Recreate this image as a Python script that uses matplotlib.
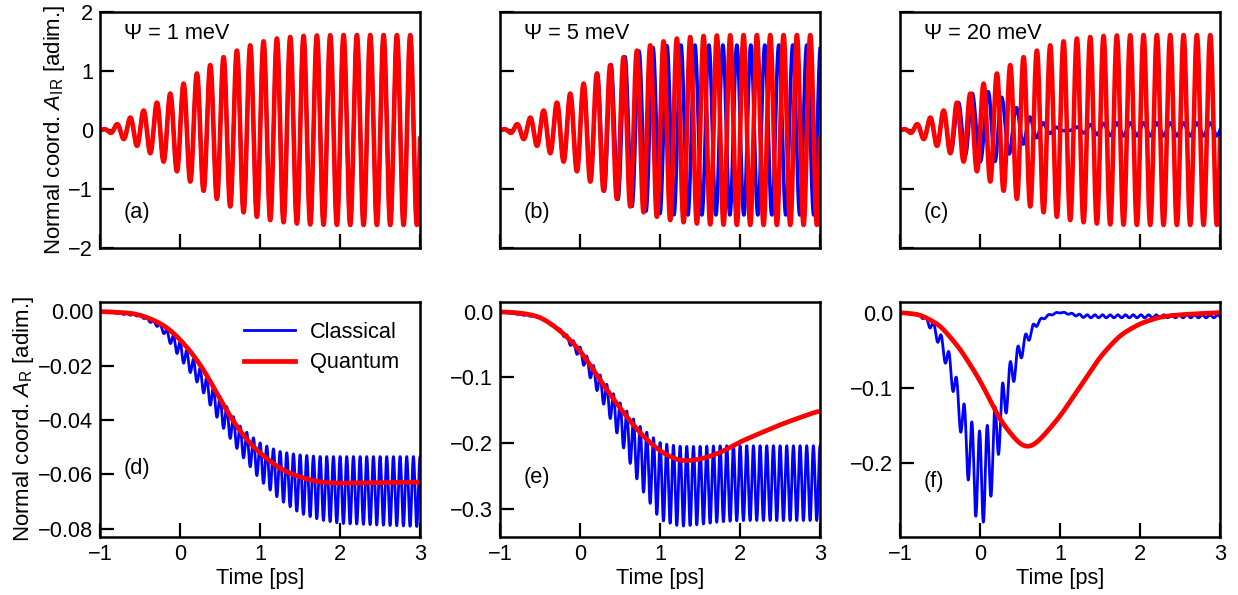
import numpy as np
import matplotlib.pyplot as plt
from matplotlib.ticker import FuncFormatter

plt.rcParams['font.family'] = ['Liberation Sans', 'DejaVu Sans']
plt.rcParams['mathtext.fontset'] = 'custom'
plt.rcParams['mathtext.rm'] = 'Liberation Sans'
plt.rcParams['mathtext.it'] = 'Liberation Sans:italic'

# --- values (time in ps) ---
psi_labels = ['\u03a8 = 1 meV', '\u03a8 = 5 meV', '\u03a8 = 20 meV']
top_tags = ['(a)', '(b)', '(c)']
bottom_tags = ['(d)', '(e)', '(f)']

# IR mode carrier: period and time of first maximum
ir_period = 0.1667
ir_first_peak = -0.79

# quantum IR amplitude envelope (same in a, b, c)
ir_env_t = [-1.0, -0.9, -0.8, -0.6, -0.4, -0.2, 0.0, 0.2, 0.4, 0.6, 0.8, 1.0, 1.2, 1.4, 1.6, 2.0, 3.0]
ir_env_q = [0.0, 0.03, 0.09, 0.225, 0.37, 0.54, 0.74, 0.95, 1.12, 1.28, 1.40, 1.49, 1.55, 1.58, 1.60, 1.61, 1.61]

# classical IR, panel (b): envelope and phase lag
b_env_t = [-1.0, -0.9, -0.8, -0.6, -0.4, -0.2, 0.0, 0.2, 0.4, 0.6, 0.8, 1.0, 1.2, 3.0]
b_env_c = [0.0, 0.03, 0.09, 0.225, 0.37, 0.54, 0.74, 0.95, 1.12, 1.27, 1.37, 1.42, 1.44, 1.44]
b_lag_t = [-1.0, 0.0, 0.4, 0.875, 2.875, 3.0]
b_lag_c = [0.0, 0.0, 0.01, 0.033, 0.125, 0.131]

# classical IR, panel (c): envelope, offset and phase lag
c_env_t = [-1.0, -0.9, -0.8, -0.6, -0.4, -0.27, -0.19, -0.1, 0.0, 0.1, 0.19, 0.27, 0.375, 0.46,
           0.54, 0.625, 0.71, 0.79, 0.875, 0.96, 1.04, 1.125, 1.21, 1.29, 1.375, 1.46, 1.54, 1.71, 3.0]
c_env_c = [0.0, 0.03, 0.09, 0.225, 0.37, 0.44, 0.45, 0.58, 0.59, 0.60, 0.59, 0.50, 0.45, 0.33,
           0.27, 0.195, 0.15, 0.10, 0.066, 0.045, 0.01, 0.01, 0.05, 0.05, 0.087, 0.087, 0.10, 0.11, 0.11]
c_off_t = [-1.0, -0.4, -0.27, -0.1, 0.3, 0.46, 0.625, 0.8, 0.96, 1.1, 1.3, 1.5, 3.0]
c_off_c = [0.0, 0.0, 0.03, 0.05, 0.05, 0.04, 0.02, 0.02, 0.0, 0.0, 0.005, 0.012, 0.01]
c_lag_t = [-1.0, -0.4, -0.27, -0.1, 0.1, 0.27, 0.46, 0.96, 1.05, 1.15, 1.21, 3.0]
c_lag_c = [0.0, 0.0, 0.02, 0.023, 0.06, 0.06, 0.082, 0.082, 0.10, 0.15, 0.167, 0.167]

# Raman mode, classical carrier (twice the IR frequency)
r_period = 0.0833

# panel (d)
d_red_t = [-1.0, -0.58, -0.375, -0.17, 0.0, 0.17, 0.33, 0.5, 0.67, 0.83, 1.0, 1.25, 1.5, 1.75, 2.0, 3.0]
d_red = [0.0, -0.0006, -0.0025, -0.0055, -0.0102, -0.0160, -0.0230, -0.0323, -0.0408, -0.0472,
         -0.0522, -0.0580, -0.0610, -0.0629, -0.0632, -0.0628]
d_blue_t = [-1.0, -0.5, -0.25, 0.0, 0.25, 0.5, 0.75, 1.0, 1.25, 1.5, 1.75, 2.0, 3.0]
d_blue_hi = [0.0, -0.0012, -0.0045, -0.0110, -0.0209, -0.0313, -0.0424, -0.0485, -0.0516,
             -0.0528, -0.0534, -0.0534, -0.0534]
d_blue_lo = [0.0, -0.0018, -0.0061, -0.0172, -0.0276, -0.0411, -0.0522, -0.0620, -0.0694,
             -0.0743, -0.0767, -0.0780, -0.0792]

# panel (e)
e_red_t = [-1.0, -0.75, -0.5, -0.25, 0.0, 0.25, 0.5, 0.75, 1.0, 1.25, 1.5, 1.75, 2.0, 2.5, 3.0]
e_red = [0.0, -0.0015, -0.007, -0.028, -0.058, -0.104, -0.147, -0.185, -0.213, -0.228, -0.225,
         -0.215, -0.198, -0.172, -0.150]
e_blue_t = [-1.0, -0.5, -0.25, 0.0, 0.25, 0.5, 0.75, 1.0, 1.25, 1.5, 1.75, 2.0, 3.0]
e_blue_hi = [0.0, -0.007, -0.026, -0.053, -0.096, -0.139, -0.175, -0.200, -0.205, -0.205,
             -0.204, -0.204, -0.204]
e_blue_lo = [0.0, -0.009, -0.030, -0.071, -0.129, -0.195, -0.266, -0.317, -0.327, -0.324,
             -0.320, -0.318, -0.318]

# panel (f)
f_red_t = [-1.0, -0.75, -0.5, -0.25, 0.0, 0.25, 0.5, 0.625, 0.75, 1.0, 1.25, 1.5, 1.75, 2.0, 2.25, 2.5, 3.0]
f_red = [0.0, -0.0027, -0.0168, -0.048, -0.090, -0.143, -0.176, -0.180, -0.169, -0.138, -0.0985,
         -0.0588, -0.030, -0.0146, -0.0058, -0.0029, 0.0]
f_period = 0.096
f_first_trough = 0.042
f_hi_t = [-1.0, -0.75, -0.6, -0.52, -0.35, -0.27, -0.19, -0.1, 0.0, 0.09, 0.19, 0.28, 0.375,
          0.48, 0.56, 0.667, 0.8, 0.9, 1.0, 1.3, 3.0]
f_hi = [0.0, -0.002, -0.010, -0.022, -0.061, -0.0985, -0.125, -0.147, -0.160, -0.152, -0.125,
        -0.094, -0.065, -0.043, -0.030, -0.0146, -0.005, -0.001, 0.001, -0.003, -0.003]
f_lo_t = [-1.0, -0.75, -0.667, -0.5625, -0.404, -0.3125, -0.229, -0.146, -0.05, 0.042, 0.146,
          0.242, 0.333, 0.425, 0.52, 0.625, 0.73, 0.85, 1.0, 1.3, 3.0]
f_lo = [0.0, -0.004, -0.0146, -0.030, -0.076, -0.116, -0.167, -0.226, -0.277, -0.284, -0.242,
        -0.182, -0.129, -0.090, -0.059, -0.034, -0.014, -0.005, 0.0, -0.007, -0.007]

bottom_ylims = [(-0.083, 0.0035), (-0.343, 0.015), (-0.298, 0.014)]
bottom_yticks = [[0.0, -0.02, -0.04, -0.06, -0.08], [0.0, -0.1, -0.2, -0.3], [0.0, -0.1, -0.2]]
bottom_fmt = ['%.2f', '%.1f', '%.1f']

BLUE = '#0000ff'
RED = '#ff0000'
FS = 15.7

t = np.linspace(-1, 3, 6001)
dt = t[1] - t[0]


def smooth_interp(xp, fp, sigma=0.03):
    # interpolate the read-off points and round the corners a bit
    y = np.interp(t, xp, fp)
    n = int(3 * sigma / dt)
    k = np.exp(-0.5 * (np.arange(-n, n + 1) * dt / sigma) ** 2)
    k /= k.sum()
    return np.convolve(np.pad(y, n, mode='edge'), k, mode='valid')


def ir_curve(env_t, env, lag_t=None, lag=None, off_t=None, off=None):
    a = smooth_interp(env_t, env, 0.02)
    shift = smooth_interp(lag_t, lag, 0.02) if lag_t is not None else 0.0
    base = smooth_interp(off_t, off, 0.03) if off_t is not None else 0.0
    return base + a * np.cos(2 * np.pi * (t - shift - ir_first_peak) / ir_period)


def band_curve(hi_t, hi, lo_t, lo, period, t0):
    h = smooth_interp(hi_t, hi, 0.03)
    l = smooth_interp(lo_t, lo, 0.03)
    return 0.5 * (h + l) - 0.5 * (h - l) * np.cos(2 * np.pi * (t - t0) / period)


quantum_ir = ir_curve(ir_env_t, ir_env_q)
classical_ir = [quantum_ir,
                ir_curve(b_env_t, b_env_c, b_lag_t, b_lag_c),
                ir_curve(c_env_t, c_env_c, c_lag_t, c_lag_c, c_off_t, c_off_c)]

quantum_r = [smooth_interp(d_red_t, d_red, 0.08),
             smooth_interp(e_red_t, e_red, 0.08),
             smooth_interp(f_red_t, f_red, 0.06)]
classical_r = [band_curve(d_blue_t, d_blue_hi, d_blue_t, d_blue_lo, r_period, ir_first_peak),
               band_curve(e_blue_t, e_blue_hi, e_blue_t, e_blue_lo, r_period, ir_first_peak),
               band_curve(f_hi_t, f_hi, f_lo_t, f_lo, f_period, f_first_trough)]


def minus_fmt(fmt):
    return FuncFormatter(lambda v, p: (fmt % v).replace('-', '\u2212'))


fig = plt.figure(figsize=(12.38, 5.95), dpi=100)
lefts = [0.0808, 0.4039, 0.727]
width = 0.2585


def style(ax):
    ax.set_xlim(-1, 3)
    ax.set_xticks([-1, 0, 1, 2, 3])
    ax.tick_params(direction='in', length=10, width=1.6, top=False, right=False,
                   labelsize=FS, pad=5)
    for s in ax.spines.values():
        s.set_linewidth(1.8)


for i in range(3):
    ax = fig.add_axes([lefts[i], 0.5832, width, 0.3966])
    ax.plot(t, classical_ir[i], color=BLUE, lw=2.6)
    ax.plot(t, quantum_ir, color=RED, lw=3.3)
    style(ax)
    ax.set_ylim(-2, 2)
    ax.set_yticks([-2, -1, 0, 1, 2])
    ax.tick_params(labelbottom=False, labelleft=(i == 0))
    if i == 0:
        ax.set_ylabel('Normal coord. $A_{\\mathrm{IR}}$ [adim.]', fontsize=FS + 0.3, labelpad=1)
    ax.text(0.075, 0.91, psi_labels[i], transform=ax.transAxes, fontsize=FS, va='center')
    ax.text(0.075, 0.15, top_tags[i], transform=ax.transAxes, fontsize=FS, va='center')

for i in range(3):
    ax = fig.add_axes([lefts[i], 0.0975, width, 0.395])
    ax.plot(t, classical_r[i], color=BLUE, lw=2.0, label='Classical')
    ax.plot(t, quantum_r[i], color=RED, lw=3.4, label='Quantum')
    style(ax)
    ax.set_ylim(*bottom_ylims[i])
    ax.set_yticks(bottom_yticks[i])
    ax.yaxis.set_major_formatter(minus_fmt(bottom_fmt[i]))
    ax.set_xlabel('Time [ps]', fontsize=FS, labelpad=2)
    if i == 0:
        ax.set_ylabel('Normal coord. $A_{\\mathrm{R}}$ [adim.]', fontsize=FS + 0.3, labelpad=1)
        ax.legend(loc='upper left', bbox_to_anchor=(0.39, 1.0), frameon=False,
                  fontsize=FS, handlelength=2.3, handletextpad=0.7, labelspacing=0.45)
    ytag = [0.29, 0.255, 0.235][i]
    ax.text(0.075, ytag, bottom_tags[i], transform=ax.transAxes, fontsize=FS, va='center')

fig.savefig('out.png', dpi=100)
